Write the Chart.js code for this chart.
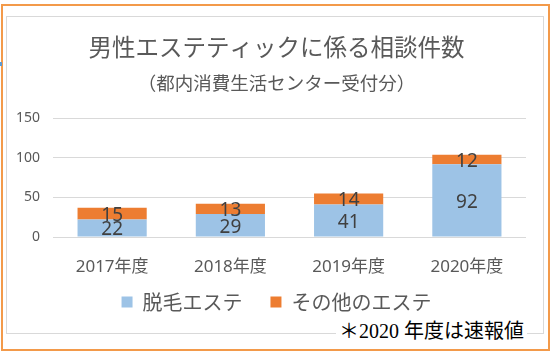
<!DOCTYPE html>
<html>
<head>
<meta charset="utf-8">
<script src="https://cdn.jsdelivr.net/npm/chart.js@4"></script>
<style>
  html, body { margin: 0; padding: 0; background: #fff; }
  body { width: 553px; height: 351px; position: relative; overflow: hidden; }
  #outer { position: absolute; left: 1px; top: 4px; width: 545px; height: 343px; border: 2px solid #F39A4A; }
  #inner { position: absolute; left: 6px; top: 16px; width: 536px; height: 316px; border: 1px solid #d9d9d9; }
  #tick { position: absolute; left: 0; top: 62px; width: 2px; height: 4px; background: #5B9BD5; }
  #c { position: absolute; left: 0; top: 0; }
  #note { position: absolute; left: 336px; top: 319px; padding: 0 3px; background: #fff;
          font-family: "Liberation Serif", "Noto Sans CJK JP", serif; font-size: 20px; line-height: 24px; color: #000; white-space: nowrap; }
</style>
</head>
<body>
<div id="outer"></div>
<div id="inner"></div>
<div id="tick"></div>
<canvas id="c" width="553" height="351"></canvas>
<div id="note">＊2020 年度は速報値</div>
<script>
const categories = ['2017年度', '2018年度', '2019年度', '2020年度'];
const hairRemoval = [22, 29, 41, 92];
const otherEsthe = [15, 13, 14, 12];
const seriesNames = ['脱毛エステ', 'その他のエステ'];
const yTickValues = [0, 50, 100, 150];
const titleText = '男性エステティックに係る相談件数';
const subtitleText = '（都内消費生活センター受付分）';

const FONT = '"Noto Sans", "Noto Sans CJK JP", sans-serif';
const CJK = '"Noto Sans CJK JP", sans-serif';

const labelPlugin = {
  id: 'segLabels',
  afterDatasetsDraw(chart) {
    const ctx = chart.ctx;
    ctx.save();
    ctx.font = '19px ' + FONT;
    ctx.fillStyle = '#404040';
    ctx.textAlign = 'center';
    ctx.textBaseline = 'middle';
    chart.data.datasets.forEach((ds, di) => {
      const meta = chart.getDatasetMeta(di);
      meta.data.forEach((bar, i) => {
        const y = (bar.y + bar.base) / 2 + 2;
        ctx.fillText(String(ds.data[i]), bar.x, y);
      });
    });
    ctx.restore();
  }
};

new Chart(document.getElementById('c'), {
  type: 'bar',
  data: {
    labels: categories,
    datasets: [
      { label: seriesNames[0], data: hairRemoval, backgroundColor: '#9DC3E6', borderWidth: 0 },
      { label: seriesNames[1], data: otherEsthe, backgroundColor: '#ED7D31', borderWidth: 0 }
    ]
  },
  options: {
    responsive: false,
    animation: false,
    devicePixelRatio: 1,
    layout: { padding: { left: 0, right: 0, top: 0, bottom: 29 } },
    datasets: { bar: { categoryPercentage: 1.0, barPercentage: 0.585 } },
    scales: {
      x: {
        stacked: true,
        afterFit(scale) { scale.height = 45; },
        grid: { display: false, drawTicks: false },
        border: { display: false },
        ticks: { color: '#595959', font: { family: FONT, size: 17 }, padding: 20 }
      },
      y: {
        stacked: true,
        min: 0, max: 150,
        afterBuildTicks(scale) { scale.ticks = yTickValues.map(v => ({ value: v })); },
        afterFit(scale) { scale.width = 53; },
        grid: { color: '#d9d9d9', lineWidth: 1, drawTicks: false },
        border: { display: false },
        ticks: { color: '#595959', font: { family: FONT, size: 14 }, padding: 13 }
      },
      yRight: {
        position: 'right',
        display: true,
        afterFit(scale) { scale.width = 27; },
        grid: { display: false, drawTicks: false },
        border: { display: false },
        ticks: { display: false }
      }
    },
    plugins: {
      title: {
        display: true, text: titleText, color: '#595959',
        font: { family: CJK, size: 23.5, weight: 'normal', lineHeight: 1.2 },
        padding: { top: 33, bottom: 11 }
      },
      subtitle: {
        display: true, text: subtitleText, color: '#595959',
        font: { family: CJK, size: 18.5, weight: 'normal', lineHeight: 1.2 },
        padding: { top: 0, bottom: 24 }
      },
      legend: {
        position: 'bottom',
        labels: {
          color: '#595959', boxWidth: 11, boxHeight: 11, padding: 10,
          font: { family: CJK, size: 20 },
          generateLabels(chart) {
            const items = Chart.defaults.plugins.legend.labels.generateLabels(chart);
            items.forEach((it, i) => { if (i < items.length - 1) it.text = it.text + '    '; });
            return items;
          }
        }
      },
      tooltip: { enabled: false }
    }
  },
  plugins: [labelPlugin]
});
</script>
</body>
</html>
